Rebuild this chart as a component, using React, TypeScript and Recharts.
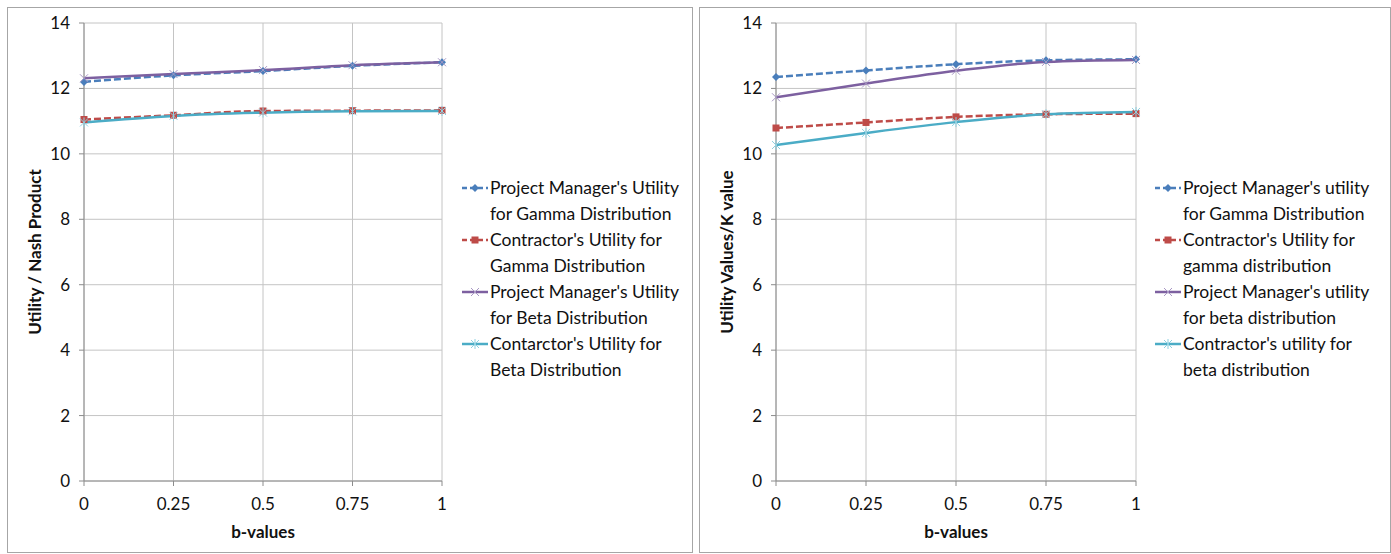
import React from "react";
import { CartesianGrid, Legend, Line, LineChart, XAxis, YAxis } from "recharts";

const bValues = [0, 0.25, 0.5, 0.75, 1];
const yTicks = [0, 2, 4, 6, 8, 10, 12, 14];

// left chart
const leftPmGamma = [12.2, 12.4, 12.53, 12.69, 12.8];
const leftConGamma = [11.05, 11.18, 11.31, 11.32, 11.33];
const leftPmBeta = [12.31, 12.44, 12.56, 12.71, 12.8];
const leftConBeta = [10.96, 11.16, 11.26, 11.3, 11.31];
const leftLabels = [
    ["Project Manager's Utility", "for Gamma Distribution"],
    ["Contractor's Utility for", "Gamma Distribution"],
    ["Project Manager's Utility", "for Beta Distribution"],
    ["Contarctor's Utility for", "Beta Distribution"],
];

// right chart
const rightPmGamma = [12.35, 12.55, 12.74, 12.86, 12.89];
const rightConGamma = [10.79, 10.96, 11.13, 11.21, 11.23];
const rightPmBeta = [11.73, 12.15, 12.54, 12.81, 12.87];
const rightConBeta = [10.27, 10.64, 10.97, 11.21, 11.28];
const rightLabels = [
    ["Project Manager's utility", "for Gamma Distribution"],
    ["Contractor's Utility for", "gamma distribution"],
    ["Project Manager's utility", "for beta distribution"],
    ["Contractor's utility for", "beta distribution"],
];

const FONT = "Lato, 'Noto Sans', sans-serif";
const BLUE = "#4A7EBB";
const RED = "#BE4B48";
const PURPLE = "#7D60A0";
const TEAL = "#4BACC6";
const GRID = "#c4c4c4";
const AXIS = "#8c8c8c";

const Diamond = (p: any) => {
    const { cx, cy } = p;
    if (cx == null || cy == null) return null;
    return <polygon points={`${cx},${cy - 4} ${cx + 4},${cy} ${cx},${cy + 4} ${cx - 4},${cy}`} fill={BLUE} />;
};
const Square = (p: any) => {
    const { cx, cy } = p;
    if (cx == null || cy == null) return null;
    return <rect x={cx - 3.5} y={cy - 3.5} width={7} height={7} fill={RED} />;
};
const Cross = (p: any) => {
    const { cx, cy } = p;
    if (cx == null || cy == null) return null;
    return (
        <g stroke="#a898c4" strokeWidth={1}>
            <line x1={cx - 4} y1={cy - 4} x2={cx + 4} y2={cy + 4} />
            <line x1={cx - 4} y1={cy + 4} x2={cx + 4} y2={cy - 4} />
        </g>
    );
};
const Star = (p: any) => {
    const { cx, cy } = p;
    if (cx == null || cy == null) return null;
    return (
        <g stroke="#8fd0e0" strokeWidth={1}>
            <line x1={cx - 4} y1={cy - 4} x2={cx + 4} y2={cy + 4} />
            <line x1={cx - 4} y1={cy + 4} x2={cx + 4} y2={cy - 4} />
            <line x1={cx} y1={cy - 5} x2={cx} y2={cy + 5} />
        </g>
    );
};

const seriesStyle = [
    { key: "pmGamma", color: BLUE, dash: "7 3", dot: Diamond },
    { key: "conGamma", color: RED, dash: "7 3", dot: Square },
    { key: "pmBeta", color: PURPLE, dash: undefined, dot: Cross },
    { key: "conBeta", color: TEAL, dash: undefined, dot: Star },
];

const LegendBox = ({ labels }: { labels: string[][] }) => (
    <div style={{ fontFamily: FONT, fontSize: 17.5, lineHeight: "26px", color: "#111" }}>
        {labels.map((lines, i) => {
            const s = seriesStyle[i];
            const Dot = s.dot;
            return (
                <div key={i} style={{ display: "flex" }}>
                    <svg width={28} height={26} style={{ flex: "none" }}>
                        <line x1={1} y1={13} x2={27} y2={13} stroke={s.color} strokeWidth={2.5} strokeDasharray={s.dash ? "5 3" : undefined} />
                        <Dot cx={14} cy={13} />
                    </svg>
                    <div style={{ paddingLeft: 1, whiteSpace: "nowrap" }}>
                        {lines.map((l, j) => (
                            <div key={j}>{l}</div>
                        ))}
                    </div>
                </div>
            );
        })}
    </div>
);

interface PanelProps {
    series: number[][];
    labels: string[][];
    yLabel: string;
    width: number;
    marginRight: number;
    legendLeft: number;
}

const Panel = ({ series, labels, yLabel, width, marginRight, legendLeft }: PanelProps) => {
    const data = bValues.map((b, i) => ({
        b,
        pmGamma: series[0][i],
        conGamma: series[1][i],
        pmBeta: series[2][i],
        conBeta: series[3][i],
    }));
    const tickStyle = { fontFamily: FONT, fontSize: 17, fill: "#111" };
    const labelStyle = { fontFamily: FONT, fontSize: 17, fontWeight: 700, fill: "#111" };
    return (
        <LineChart width={width} height={544} data={data} margin={{ top: 15, right: marginRight, left: 16, bottom: 13 }}>
            <CartesianGrid stroke={GRID} strokeWidth={1} />
            <XAxis
                dataKey="b"
                type="number"
                domain={[0, 1]}
                ticks={bValues}
                tickFormatter={(v: number) => String(v)}
                tick={tickStyle}
                tickSize={5}
                tickMargin={12}
                stroke={AXIS}
                height={58}
                label={{ value: "b-values", position: "insideBottom", offset: 1, style: labelStyle }}
            />
            <YAxis
                type="number"
                domain={[0, 14]}
                ticks={yTicks}
                tick={tickStyle}
                tickSize={5}
                tickMargin={9}
                stroke={AXIS}
                width={60}
                label={{ value: yLabel, angle: -90, position: "insideLeft", offset: 11, style: { ...labelStyle, textAnchor: "middle" } }}
            />
            <Legend
                layout="vertical"
                align="center"
                verticalAlign="middle"
                wrapperStyle={{ left: legendLeft, top: 167, width: 240 }}
                content={() => <LegendBox labels={labels} />}
            />
            {seriesStyle.map((s) => (
                <Line
                    key={s.key}
                    type="monotone"
                    dataKey={s.key}
                    stroke={s.color}
                    strokeWidth={2.5}
                    strokeDasharray={s.dash}
                    dot={s.dot}
                    activeDot={false}
                    isAnimationActive={false}
                />
            ))}
        </LineChart>
    );
};

export default function App() {
    const panelStyle: React.CSSProperties = {
        position: "absolute",
        top: 7,
        height: 546,
        border: "1px solid #a6a6a6",
        boxSizing: "border-box",
        background: "#fff",
    };
    return (
        <div style={{ position: "absolute", left: 0, top: 0, width: 1391, height: 554, background: "#fff" }}>
            <div style={{ ...panelStyle, left: 7, width: 686 }}>
                <Panel
                    series={[leftPmGamma, leftConGamma, leftPmBeta, leftConBeta]}
                    labels={leftLabels}
                    yLabel="Utility / Nash Product"
                    width={684}
                    marginRight={250}
                    legendLeft={453}
                />
            </div>
            <div style={{ ...panelStyle, left: 699, width: 692 }}>
                <Panel
                    series={[rightPmGamma, rightConGamma, rightPmBeta, rightConBeta]}
                    labels={rightLabels}
                    yLabel="Utility Values/K value"
                    width={690}
                    marginRight={254}
                    legendLeft={454}
                />
            </div>
        </div>
    );
}
